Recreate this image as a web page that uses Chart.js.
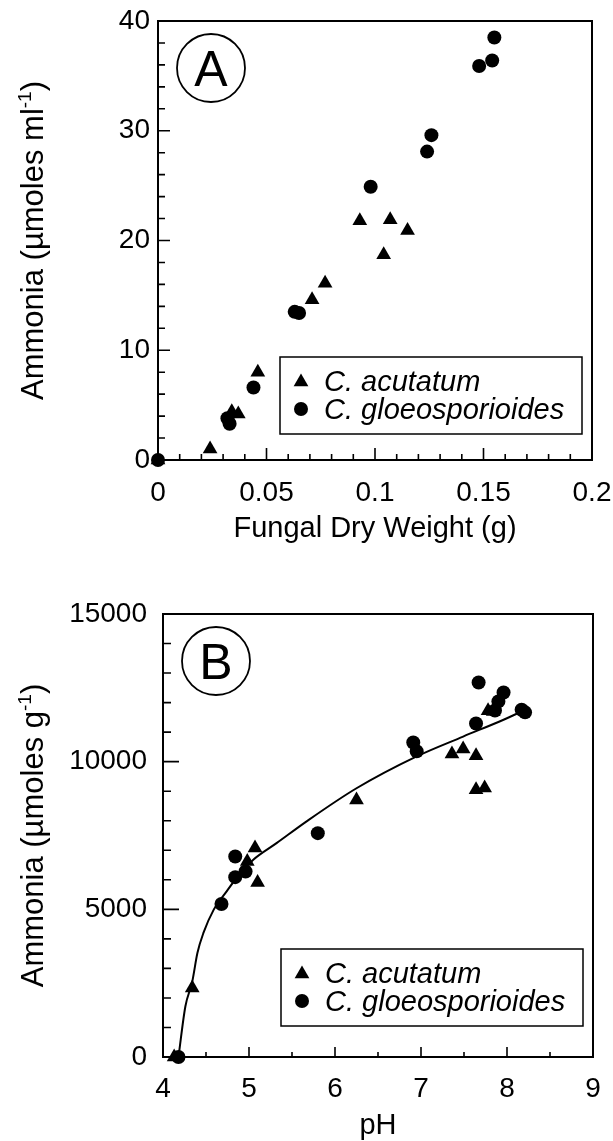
<!DOCTYPE html>
<html>
<head>
<meta charset="utf-8">
<script src="https://cdn.jsdelivr.net/npm/chart.js@4.4.1/dist/chart.umd.min.js"></script>
<style>
  html, body { margin: 0; padding: 0; background: #fff; }
  #wrap { position: relative; width: 613px; height: 1141px; }
  canvas { position: absolute; left: 0; }
  #chartA { top: 0; }
  #chartB { top: 590px; }
</style>
</head>
<body>
<div id="wrap">
  <canvas id="chartA" width="613" height="590"></canvas>
  <canvas id="chartB" width="613" height="551"></canvas>
</div>
<script>
// A: ammonia in the medium vs fungal dry weight
const weightAcutatum = [0, 0.024, 0.034, 0.037, 0.046, 0.071, 0.077, 0.093, 0.104, 0.107, 0.115];
const ammoniaAcutatum = [0, 1.0, 4.4, 4.2, 8.0, 14.6, 16.1, 21.8, 18.7, 21.9, 20.9];
const weightGloeo = [0, 0.032, 0.033, 0.044, 0.063, 0.065, 0.098, 0.124, 0.126, 0.148, 0.154, 0.155];
const ammoniaGloeo = [0, 3.8, 3.3, 6.6, 13.5, 13.4, 24.9, 28.1, 29.6, 35.9, 36.4, 38.5];

// B: ammonia per gram vs pH
const phAcutatum = [4.13, 4.34, 4.98, 5.07, 5.10, 6.25, 7.36, 7.49, 7.64, 7.64, 7.74, 7.78, 7.84];
const nh3Acutatum = [0, 2340, 6620, 7080, 5910, 8700, 10260, 10430, 10200, 9050, 9110, 11720, 11700];
const phGloeo = [4.18, 4.68, 4.84, 4.84, 4.96, 5.80, 6.91, 6.95, 7.64, 7.67, 7.86, 7.90, 7.96, 8.17, 8.21];
const nh3Gloeo = [0, 5180, 6790, 6090, 6280, 7580, 10650, 10350, 11290, 12680, 11730, 12040, 12340, 11760, 11670];
// fitted curve
const fitPh = [4.18, 4.26, 4.34, 4.40, 4.47, 4.59, 4.74, 4.90, 5.05, 5.32, 5.67, 6.25, 6.95, 7.49, 7.96, 8.17];
const fitNh3 = [0, 1710, 2550, 3520, 4200, 4990, 5610, 6230, 6680, 7240, 7980, 9100, 10180, 10850, 11420, 11700];

const seriesNames = ['C. acutatum', 'C. gloeosporioides'];
const FONT = '"Liberation Sans", Arial, Helvetica, sans-serif';

const pts = (xs, ys) => xs.map((x, i) => ({ x: x, y: ys[i] }));

// box round the plot + inward tick marks
function framePlugin(o) {
	return {
		id: 'frame',
		beforeDatasetsDraw(chart) {
			const { ctx, chartArea: a } = chart;
			const x = chart.scales.x, y = chart.scales.y;
			ctx.save();
			ctx.strokeStyle = '#000';
			ctx.lineWidth = 2;
			ctx.strokeRect(a.left, a.top, a.right - a.left, a.bottom - a.top);
			ctx.lineWidth = 1.6;
			ctx.beginPath();
			const nx = Math.round((x.max - x.min) / o.xMinor);
			for (let i = 0; i <= nx; i++) {
				const px = x.getPixelForValue(x.min + i * o.xMinor);
				const len = i % o.xEvery === 0 ? o.xMajorLen : o.xMinorLen;
				ctx.moveTo(px, a.bottom);
				ctx.lineTo(px, a.bottom - len);
			}
			const ny = Math.round((y.max - y.min) / o.yMinor);
			for (let i = 0; i <= ny; i++) {
				const py = y.getPixelForValue(y.min + i * o.yMinor);
				const len = i % o.yEvery === 0 ? o.yMajorLen : o.yMinorLen;
				ctx.moveTo(a.left, py);
				ctx.lineTo(a.left + len, py);
			}
			ctx.stroke();
			ctx.restore();
		}
	};
}

// axis titles (y title has a superscript)
function titlesPlugin(o) {
	return {
		id: 'titles',
		afterDraw(chart) {
			const { ctx, chartArea: a } = chart;
			ctx.save();
			ctx.fillStyle = '#000';
			ctx.textBaseline = 'alphabetic';
			ctx.font = `${o.xSize}px ${FONT}`;
			ctx.textAlign = 'center';
			ctx.fillText(o.xText, (a.left + a.right) / 2, a.bottom + o.xOffset);

			const big = `${o.ySize}px ${FONT}`;
			const small = `${o.supSize}px ${FONT}`;
			ctx.textAlign = 'left';
			ctx.font = big;
			const w1 = ctx.measureText(o.yText).width;
			const w3 = ctx.measureText(o.yTail).width;
			ctx.font = small;
			const w2 = ctx.measureText(o.ySup).width;
			ctx.translate(o.yX, (a.top + a.bottom) / 2);
			ctx.rotate(-Math.PI / 2);
			let cx = -(w1 + w2 + w3) / 2;
			ctx.font = big;
			ctx.fillText(o.yText, cx, 0);
			cx += w1;
			ctx.font = small;
			ctx.fillText(o.ySup, cx, -o.supRise);
			cx += w2;
			ctx.font = big;
			ctx.fillText(o.yTail, cx, 0);
			ctx.restore();
		}
	};
}

// circled panel letter
function panelPlugin(letter) {
	return {
		id: 'panel',
		afterDraw(chart) {
			const { ctx, chartArea: a } = chart;
			const cx = a.left + 53, cy = a.top + 47;
			ctx.save();
			ctx.strokeStyle = '#000';
			ctx.lineWidth = 1.8;
			ctx.beginPath();
			ctx.arc(cx, cy, 34, 0, Math.PI * 2);
			ctx.stroke();
			ctx.fillStyle = '#000';
			ctx.font = `50px ${FONT}`;
			ctx.textAlign = 'center';
			ctx.textBaseline = 'alphabetic';
			ctx.fillText(letter, cx, cy + 18);
			ctx.restore();
		}
	};
}

function triangle(ctx, x, y, r) {
	ctx.beginPath();
	ctx.moveTo(x, y - r);
	ctx.lineTo(x + r * 0.866, y + r * 0.5);
	ctx.lineTo(x - r * 0.866, y + r * 0.5);
	ctx.closePath();
	ctx.fill();
}

// legend box inside the plot, lower right
function legendPlugin(bottomGap) {
	return {
		id: 'boxLegend',
		afterDraw(chart) {
			const { ctx, chartArea: a } = chart;
			const w = 302, h = 77;
			const right = a.right - 10, bottom = a.bottom - bottomGap;
			const left = right - w, top = bottom - h;
			ctx.save();
			ctx.strokeStyle = '#000';
			ctx.lineWidth = 1.5;
			ctx.strokeRect(left, top, w, h);
			ctx.fillStyle = '#000';
			triangle(ctx, left + 21, top + 25, 8.5);
			ctx.beginPath();
			ctx.arc(left + 21, top + 52, 7, 0, Math.PI * 2);
			ctx.fill();
			ctx.font = `italic 29px ${FONT}`;
			ctx.textAlign = 'left';
			ctx.textBaseline = 'alphabetic';
			ctx.fillText(seriesNames[0], left + 44, top + 34);
			ctx.fillText(seriesNames[1], left + 44, top + 62);
			ctx.restore();
		}
	};
}

const tickFont = { family: FONT, size: 28 };

function makeOptions(cfg) {
	return {
		responsive: false,
		animation: false,
		layout: { padding: { left: 0, top: cfg.top, right: cfg.right, bottom: 0 } },
		plugins: {
			legend: { display: false },
			tooltip: { enabled: false }
		},
		scales: {
			x: {
				type: 'linear',
				min: cfg.xMin, max: cfg.xMax,
				grid: { display: false, drawTicks: false },
				border: { display: false },
				ticks: {
					stepSize: cfg.xStep,
					padding: cfg.xPad,
					color: '#000',
					font: tickFont,
					maxRotation: 0,
					callback: v => String(+v.toFixed(2))
				},
				afterFit: s => {
					s.height = cfg.xHeight;
					s.paddingLeft = 0;
					s.paddingRight = 0;
				}
			},
			y: {
				type: 'linear',
				min: cfg.yMin, max: cfg.yMax,
				grid: { display: false, drawTicks: false },
				border: { display: false },
				ticks: {
					stepSize: cfg.yStep,
					padding: cfg.yPad,
					color: '#000',
					font: tickFont,
					callback: v => String(v)
				},
				afterFit: s => {
					s.width = cfg.yWidth;
					s.paddingTop = 0;
					s.paddingBottom = 0;
				}
			}
		}
	};
}

function markerSets() {
	return [
		{
			pointStyle: 'triangle',
			pointRadius: 8.5,
			backgroundColor: '#000',
			borderColor: '#000',
			borderWidth: 0,
			clip: false
		},
		{
			pointStyle: 'circle',
			pointRadius: 7,
			backgroundColor: '#000',
			borderColor: '#000',
			borderWidth: 0,
			clip: false
		}
	];
}

const [triA, dotA] = markerSets();
new Chart(document.getElementById('chartA'), {
	type: 'scatter',
	data: {
		datasets: [
			{ ...triA, label: seriesNames[0], data: pts(weightAcutatum, ammoniaAcutatum) },
			{ ...dotA, label: seriesNames[1], data: pts(weightGloeo, ammoniaGloeo) }
		]
	},
	options: makeOptions({
		top: 21, right: 21, yWidth: 158, xHeight: 130,
		xMin: 0, xMax: 0.2, xStep: 0.05, xPad: 16,
		yMin: 0, yMax: 40, yStep: 10, yPad: 8
	}),
	plugins: [
		framePlugin({ xMinor: 0.01, xEvery: 5, xMajorLen: 12, xMinorLen: 6, yMinor: 2, yEvery: 5, yMajorLen: 12, yMinorLen: 7 }),
		titlesPlugin({ xSize: 29, ySize: 31, supSize: 19, supRise: 12, xText: 'Fungal Dry Weight (g)', xOffset: 77, yX: 43, yText: 'Ammonia (µmoles ml', ySup: '-1', yTail: ')' }),
		panelPlugin('A'),
		legendPlugin(26)
	]
});

const [triB, dotB] = markerSets();
new Chart(document.getElementById('chartB'), {
	type: 'scatter',
	data: {
		datasets: [
			{ ...triB, label: seriesNames[0], data: pts(phAcutatum, nh3Acutatum) },
			{ ...dotB, label: seriesNames[1], data: pts(phGloeo, nh3Gloeo) },
			{
				label: 'fit',
				data: pts(fitPh, fitNh3),
				showLine: true,
				pointRadius: 0,
				borderColor: '#000',
				borderWidth: 2,
				cubicInterpolationMode: 'monotone'
			}
		]
	},
	options: makeOptions({
		top: 24, right: 20, yWidth: 163, xHeight: 84,
		xMin: 4, xMax: 9, xStep: 1, xPad: 15,
		yMin: 0, yMax: 15000, yStep: 5000, yPad: 16
	}),
	plugins: [
		framePlugin({ xMinor: 0.5, xEvery: 2, xMajorLen: 10, xMinorLen: 5, yMinor: 1000, yEvery: 5, yMajorLen: 16, yMinorLen: 8 }),
		titlesPlugin({ xSize: 29, ySize: 31, supSize: 19, supRise: 12, xText: 'pH', xOffset: 77, yX: 43, yText: 'Ammonia (µmoles g', ySup: '-1', yTail: ')' }),
		panelPlugin('B'),
		legendPlugin(31)
	]
});
</script>
</body>
</html>
